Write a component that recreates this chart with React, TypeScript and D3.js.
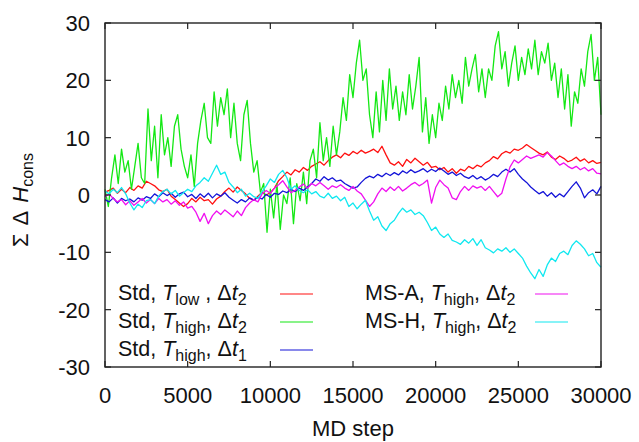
import React from "react";
import * as d3 from "d3";

// x step between stored samples
const STEP_FINE = 200;   // green series
const STEP = 250;        // other series

const xTicks = [0, 5000, 10000, 15000, 20000, 25000, 30000];
const yTicks = [-30, -20, -10, 0, 10, 20, 30];

// Std, T_low, dt2 (red)
const stdLow = [0.5,
  0.8, 1.2, 0.3, 1.0, 0.4, 1.3, 0.8, 1.6, 1.2, 2.4, 2.0, 1.6, 0.9, 0.6, 1.0, -0.2,
  -0.8, -1.4, -2.0, -1.5, -0.6, -1.2, -0.4, -1.0, -0.8, -1.6, -0.7, -0.2, 0.6, 1.2, 0.5, 1.4,
  0.8, 0.2, -0.6, -0.9, -0.2, 0.5, 0.0, 0.4, 1.2, 2.5, 3.2, 4.0, 3.5, 4.4, 4.0, 4.8,
  4.3, 5.0, 5.4, 5.8, 5.2, 6.0, 6.6, 7.0, 6.5, 7.3, 6.9, 7.6, 7.2, 7.8, 7.3, 7.6,
  8.0, 7.4, 8.5, 7.0, 5.6, 5.2, 5.8, 5.0, 6.2, 5.6, 6.4, 5.8, 5.2, 5.7, 4.8, 5.0,
  4.4, 4.8, 4.0, 4.6, 3.8, 4.5, 4.2, 5.0, 4.6, 5.2, 4.9, 5.6, 6.0, 6.7, 6.3, 7.2,
  7.6, 7.3, 8.0, 7.8, 8.2, 8.8, 8.3, 7.8, 7.3, 7.0, 7.5, 6.6, 6.2, 6.8, 6.4, 5.8,
  6.1, 6.6, 5.9, 6.3, 5.6, 6.0, 5.5, 5.7];

// Std, T_high, dt2 (green), sampled every 200 steps
const stdHigh2 = [1,
  -2, 3, 7, 2, 8, 4, 6, 1, 5, 9,
  3, 2, 15, 6, 12, 3, 14, 7, 10, 5,
  12, 14, 8, 5, 3, 7, 1.5, 9, 13, 16,
  10, 9, 18, 12, 17, 14, 18.5, 10, 16, 9,
  6, 14, 16.5, 9, 4, 6, 0.5, 2, -6.5, 1,
  -4, 2, -6, 0, -1.5, 3, -5, 2, -1, 4,
  -1.5, 6, 8, 3, 12.6, 6, 10, 5, 12, 7,
  11, 17, 13, 21, 17, 23, 27, 20, 22, 14,
  10, 18, 11, 20, 13, 22, 15, 19, 13, 18,
  14, 21, 15, 19, 24, 11, 17, 9, 14, 10,
  16, 13, 19, 15, 21, 17, 20, 16, 24, 19,
  22, 24.5, 18, 22, 17, 22, 20, 26, 28.5, 22,
  25, 19, 23, 26, 20, 24, 21, 25.5, 22, 27,
  21, 25, 23, 26.5, 20, 23, 17, 22, 15, 21,
  12, 18, 16, 22, 19, 25, 28, 20, 24, 14];

// Std, T_high, dt1 (blue)
const stdHigh1 = [-0.8,
  -1.2, -0.5, -1.4, -0.6, -1.0, -0.7, -1.2, -0.5, -0.9, -0.3, -0.6, 0.2, -0.3, 0.4, -0.1, 0.3,
  -0.4, 0.2, 0.5, -0.3, 0.1, -0.6, 0.2, -0.4, 0.3, -0.5, 0.2, -0.2, 0.4, -0.4, -0.9, -1.4,
  -0.8, -1.2, -0.5, -0.9, -0.4, -0.7, 0.1, -0.4, 0.3, 0.1, 0.7, 0.4, 1.0, 0.6, 1.2, 0.8,
  1.4, 2.0, 2.8, 2.4, 3.2, 2.6, 3.0, 2.4, 2.6, 2.0, 1.6, 1.2, 1.4, 2.2, 2.9, 3.3,
  3.0, 3.6, 3.2, 3.8, 3.4, 3.9, 3.5, 4.2, 3.8, 4.4, 3.9, 4.2, 4.6, 4.0, 4.5, 4.1,
  4.7, 4.2, 3.6, 4.0, 3.4, 3.8, 3.2, 2.9, 3.4, 2.8, 3.2, 2.6, 3.0, 3.6, 3.2, 4.0,
  4.5, 4.0, 4.6, 3.6, 2.8, 2.2, 1.4, 0.8, 0.2, 0.6, -0.2, 0.4, -0.4, 0.2, -0.3, 0.6,
  1.5, 2.3, 1.2, -0.5, 0.4, 0.9, 0.2, 1.5];

// MS-A, T_high, dt2 (magenta)
const msA = [-0.3,
  0.2, -0.6, -1.2, -0.8, -1.7, -1.0, -1.8, -1.2, -0.6, -1.4, -0.8, -1.5, -0.6, -1.2, -0.8, -1.6,
  -1.0, -1.8, -1.2, -2.3, -2.0, -3.0, -4.6, -3.2, -5.0, -3.6, -2.8, -3.4, -2.6, -3.2, -3.8, -2.8,
  -3.6, -2.2, -1.4, -0.8, -1.2, 0.2, 0.8, 0.3, 1.2, 1.8, 2.5, 1.4, 0.4, 0.8, 1.4, 1.9,
  1.2, 2.0, 1.6, 2.2, 1.6, 1.0, 1.6, 1.3, 1.8, 1.2, 0.8, 1.5, 0.7, 0.2, -0.9, -2.0,
  -1.2, 0.2, 1.2, 0.6, 1.4, 0.8, 1.5, 0.7, 1.2, 1.8, 2.2, 1.6, 2.0, 2.6, -1.4, 1.3,
  2.6, 1.8, 1.2, -0.5, -0.8, 0.6, 1.5, 0.8, 1.6, 1.2, 1.5, 0.8, 1.5, 0.6, -0.3, 0.3,
  2.8, 4.9, 6.1, 5.6, 6.2, 6.8, 6.4, 6.7, 7.0, 6.6, 7.4, 6.8, 6.0, 5.2, 5.6, 5.0,
  4.6, 5.0, 4.4, 4.8, 4.2, 4.6, 3.8, 3.7];

// MS-H, T_high, dt2 (cyan)
const msH = [0.7,
  0.2, 1.0, 0.4, 1.3, 0.2, -1.4, -2.6, -1.6, -2.2, -1.0, -0.8, -1.5, -0.2, 0.6, 1.0, 0.2,
  0.8, -0.2, 0.4, 1.0, 0.6, 1.6, 2.2, 3.0, 2.4, 3.8, 5.2, 3.6, 4.0, 2.2, 1.4, 0.4,
  1.0, -0.2, 0.3, -0.3, -0.6, 0.6, 1.6, 2.8, 2.2, 3.6, 4.3, 3.0, 1.0, 1.6, 0.8, 0.4,
  0.9, 0.2, 0.6, -0.2, -0.5, 0.3, -0.6, -0.2, -1.0, -0.4, -2.0, -1.4, -2.4, -1.6, -0.9, -2.8,
  -4.4, -3.8, -5.4, -6.2, -5.0, -4.4, -3.2, -2.3, -3.0, -2.6, -3.4, -3.0, -3.6, -4.8, -6.2, -5.6,
  -6.8, -7.4, -6.8, -7.9, -8.2, -8.6, -7.8, -8.4, -7.6, -8.8, -7.8, -9.2, -9.6, -10.1, -9.4, -9.8,
  -9.2, -10.0, -9.4, -10.2, -11.0, -12.4, -13.6, -14.6, -13.0, -14.2, -12.2, -11.0, -11.6, -10.2, -9.8, -10.4,
  -8.8, -8.0, -8.6, -9.4, -10.6, -10.2, -11.8, -12.6];

const seriesColors = ["#ff1010", "#14e814", "#1414d8", "#f010f0", "#10e8f0"];

const series = [
  { values: stdLow, step: STEP, color: seriesColors[0] },
  { values: stdHigh2, step: STEP_FINE, color: seriesColors[1] },
  { values: stdHigh1, step: STEP, color: seriesColors[2] },
  { values: msA, step: STEP, color: seriesColors[3] },
  { values: msH, step: STEP, color: seriesColors[4] },
];

// legend: [prefix, subscript after T, separator, subscript after t]
const legendLabels = [
  ["Std, ", "low", " , \u0394", "2"],
  ["Std, ", "high", ", \u0394", "2"],
  ["Std, ", "high", ", \u0394", "1"],
  ["MS-A, ", "high", ", \u0394", "2"],
  ["MS-H, ", "high", ", \u0394", "2"],
];

const FONT = "'Liberation Sans', Arial, Helvetica, sans-serif";

export default function App() {
  const W = 639, H = 442;
  const x = d3.scaleLinear().domain([0, 30000]).range([105, 601]);
  const y = d3.scaleLinear().domain([-30, 30]).range([367, 23]);
  const fs = 22;
  const lfs = 21.5;
  const sub = 16;

  const tick = 6;
  const legendPos = [
    { tx: 118, sx: 280, row: 0 },
    { tx: 118, sx: 280, row: 1 },
    { tx: 118, sx: 280, row: 2 },
    { tx: 365, sx: 535, row: 0 },
    { tx: 365, sx: 535, row: 1 },
  ];
  const rowY = (r: number) => 294 + r * 28;

  return (
    <svg width={W} height={H} style={{ position: "absolute", left: 0, top: 0, background: "#fff" }}
      fontFamily={FONT}>
      <rect width={W} height={H} fill="#fff" />
      {series.map((s, i) => {
        const line = d3.line<number>()
          .x((_, j) => x(j * s.step))
          .y((v) => y(v));
        return <path key={i} d={line(s.values) || ""} fill="none" stroke={s.color} strokeWidth={1.3} strokeLinejoin="round" />;
      })}
      {/* frame */}
      <rect x={x(0)} y={y(30)} width={x(30000) - x(0)} height={y(-30) - y(30)} fill="none" stroke="#222" strokeWidth={1.4} />
      {xTicks.map((t) => (
        <g key={"xt" + t}>
          <line x1={x(t)} x2={x(t)} y1={y(-30)} y2={y(-30) - tick} stroke="#222" strokeWidth={1.2} />
          <line x1={x(t)} x2={x(t)} y1={y(30)} y2={y(30) + tick} stroke="#222" strokeWidth={1.2} />
          <text x={x(t)} y={403} fontSize={fs} textAnchor="middle" fill="#111">{t}</text>
        </g>
      ))}
      {yTicks.map((t) => (
        <g key={"yt" + t}>
          <line x1={x(0)} x2={x(0) + tick} y1={y(t)} y2={y(t)} stroke="#222" strokeWidth={1.2} />
          <line x1={x(30000)} x2={x(30000) - tick} y1={y(t)} y2={y(t)} stroke="#222" strokeWidth={1.2} />
          <text x={90} y={y(t) + 8} fontSize={fs} textAnchor="end" fill="#111">{t}</text>
        </g>
      ))}
      <text x={353} y={436} fontSize={fs} textAnchor="middle" fill="#111">MD step</text>
      <text transform="translate(28,200) rotate(-90)" fontSize={22} textAnchor="middle" fill="#111">
        {"\u03A3"}<tspan dx={8}>{"\u0394"}</tspan><tspan dx={8} fontStyle="italic">H</tspan><tspan fontSize={sub} dy={5}>cons</tspan>
      </text>
      {/* legend */}
      {legendLabels.map((lab, i) => {
        const p = legendPos[i];
        const ry = rowY(p.row);
        return (
          <g key={"lg" + i}>
            <text x={p.tx} y={ry + 6} fontSize={lfs} fill="#111">
              {lab[0]}<tspan fontStyle="italic">T</tspan>
              <tspan fontSize={sub} dy={5}>{lab[1]}</tspan>
              <tspan dy={-5}>{lab[2]}</tspan>
              <tspan fontStyle="italic">t</tspan>
              <tspan fontSize={sub} dy={5}>{lab[3]}</tspan>
            </text>
            <line x1={p.sx} x2={p.sx + 33} y1={ry} y2={ry} stroke={series[i].color} strokeWidth={1.2} />
          </g>
        );
      })}
    </svg>
  );
}
